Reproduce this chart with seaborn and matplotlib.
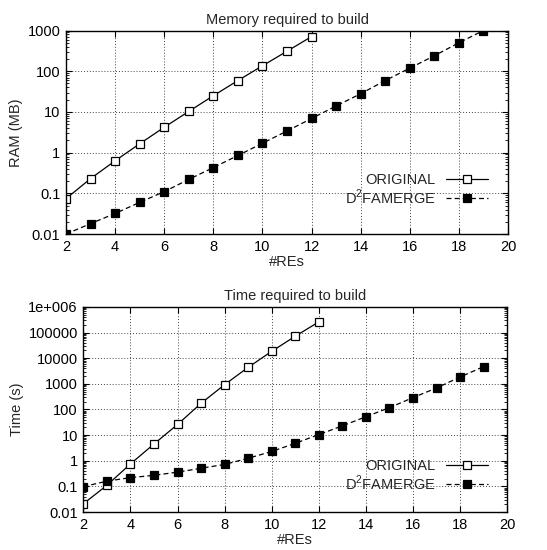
import numpy as np
import pandas as pd
import matplotlib
matplotlib.use("Agg")
import matplotlib.pyplot as plt
import seaborn as sns
from matplotlib.ticker import LogLocator, NullFormatter

# %%
# data
res_orig = [2, 3, 4, 5, 6, 7, 8, 9, 10, 11, 12]
res_d2 = [2, 3, 4, 5, 6, 7, 8, 9, 10, 11, 12, 13, 14, 15, 16, 17, 18, 19]

ram_orig = [0.074, 0.23, 0.63, 1.65, 4.2, 10.3, 25, 59, 136, 310, 710]
ram_d2 = [0.01, 0.018, 0.032, 0.06, 0.11, 0.22, 0.43, 0.85, 1.7, 3.4, 6.9,
          14, 28, 59, 119, 240, 500, 1000]

time_orig = [0.021, 0.11, 0.75, 4.5, 26, 174, 930, 4400, 18500, 72000, 260000]
time_d2 = [0.098, 0.16, 0.22, 0.27, 0.36, 0.51, 0.72, 1.25, 2.3, 4.8, 10.5,
           23, 52, 118, 290, 690, 1850, 4700]

x_ticks = [2, 4, 6, 8, 10, 12, 14, 16, 18, 20]
ram_ticks = [0.01, 0.1, 1, 10, 100, 1000]
ram_labels = ["0.01", "0.1", "1", "10", "100", "1000"]
time_ticks = [0.01, 0.1, 1, 10, 100, 1000, 1e4, 1e5, 1e6]
time_labels = ["0.01", "0.1", "1", "10", "100", "1000", "10000", "100000", "1e+006"]

# %%
sns.set_style("ticks")
plt.rcParams["font.family"] = ["Liberation Sans", "DejaVu Sans"]
plt.rcParams["font.size"] = 10.5
plt.rcParams["mathtext.fontset"] = "custom"
plt.rcParams["mathtext.rm"] = "Liberation Sans"

fig = plt.figure(figsize=(5.47, 5.5), dpi=100)
ax1 = fig.add_axes([0.1207, 0.5745, 0.808, 0.370])
ax2 = fig.add_axes([0.1523, 0.069, 0.775, 0.373])


def draw_panel(ax, y_orig, y_d2, yticks, ylabels, ylabel, title, leg_y):
    sns.lineplot(x=res_orig, y=y_orig, ax=ax, color="black", linewidth=0.9,
                 marker="s", markersize=5.3, markerfacecolor="white",
                 markeredgecolor="black", markeredgewidth=0.9,
                 label="ORIGINAL")
    sns.lineplot(x=res_d2, y=y_d2, ax=ax, color="black", linewidth=0.9,
                 linestyle=(0, (4, 2.5)),
                 marker="s", markersize=5.3, markerfacecolor="black",
                 markeredgecolor="black", markeredgewidth=0.9,
                 label="D$^2$FAMERGE")
    ax.set_yscale("log")
    ax.set_xlim(2, 20)
    ax.set_ylim(yticks[0], yticks[-1])
    ax.set_xticks(x_ticks)
    ax.set_yticks(yticks, ylabels)
    ax.yaxis.set_minor_locator(LogLocator(base=10, subs=np.arange(2, 10) / 1.0, numticks=50))
    ax.yaxis.set_minor_formatter(NullFormatter())
    ax.tick_params(which="both", direction="in", top=True, right=True,
                   colors="black", labelsize=10.5)
    ax.tick_params(which="major", length=4.5, width=0.8, pad=4)
    ax.tick_params(which="minor", length=2.2, width=0.6)
    ax.grid(True, which="major", linestyle=(0, (1, 2)), color="#444444", linewidth=0.7)
    for sp in ax.spines.values():
        sp.set_visible(True)
        sp.set_color("black")
        sp.set_linewidth(1.0)
    ax.set_xlabel("#REs", labelpad=1)
    ax.set_ylabel(ylabel, labelpad=3)
    ax.set_title(title, fontsize=10.5, pad=5)
    ax.legend(loc="lower right", bbox_to_anchor=(0.955, leg_y), frameon=False,
              markerfirst=False, handlelength=2.9, handletextpad=0.7,
              labelspacing=0.0, borderpad=0, borderaxespad=0, fontsize=10.5)


draw_panel(ax1, ram_orig, ram_d2, ram_ticks, ram_labels, "RAM (MB)",
           "Memory required to build", 0.135)
draw_panel(ax2, time_orig, time_d2, time_ticks, time_labels, "Time (s)",
           "Time required to build", 0.095)

plt.savefig("out.png", dpi=100)
